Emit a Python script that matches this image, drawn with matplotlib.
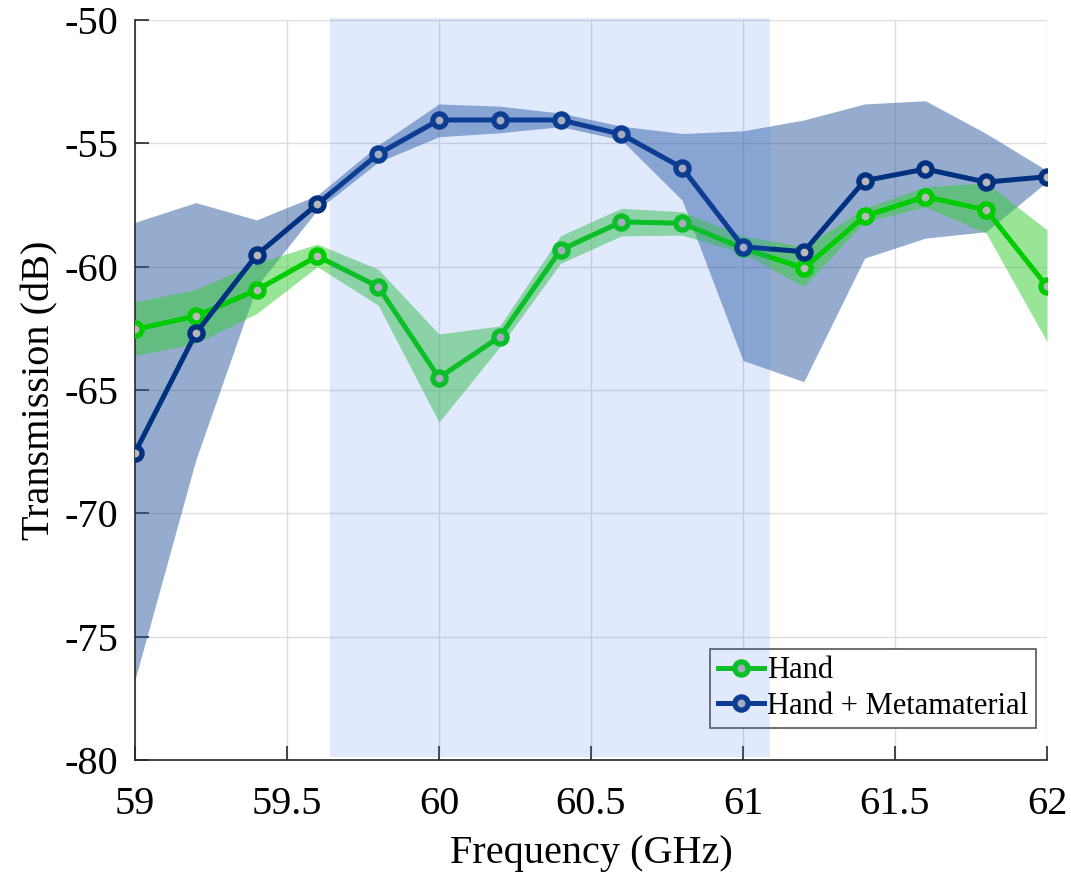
import numpy as np
import matplotlib
matplotlib.use("Agg")
import matplotlib.pyplot as plt

plt.rcParams['font.family'] = ['Liberation Serif', 'DejaVu Serif']
plt.rcParams['axes.unicode_minus'] = False

# frequency points (GHz)
freq = [59.0, 59.2, 59.4, 59.6, 59.8, 60.0, 60.2, 60.4, 60.6, 60.8,
        61.0, 61.2, 61.4, 61.6, 61.8, 62.0]

# Hand
hand = [-62.54, -62.0, -60.95, -59.57, -60.81, -64.5, -62.84, -59.32,
        -58.18, -58.24, -59.25, -60.06, -57.95, -57.16, -57.7, -60.8]
hand_hi = [-61.42, -60.92, -59.86, -59.08, -60.1, -62.73, -62.4, -58.74,
           -57.63, -57.77, -58.75, -59.19, -57.63, -56.76, -56.6, -58.5]
hand_lo = [-63.6, -63.1, -61.9, -60.0, -61.56, -66.3, -63.25, -59.86,
           -58.75, -58.72, -59.45, -60.8, -58.18, -57.57, -58.64, -63.04]

# Hand + Metamaterial
meta = [-67.54, -62.7, -59.53, -57.46, -55.43, -54.05, -54.05, -54.05,
        -54.63, -55.99, -59.19, -59.39, -56.51, -56.04, -56.57, -56.35]
meta_hi = [-58.2, -57.4, -58.1, -57.1, -55.07, -53.4, -53.49, -53.77,
           -54.3, -54.6, -54.49, -54.05, -53.4, -53.27, -54.6, -56.1]
meta_lo = [-76.75, -67.84, -60.8, -57.7, -55.76, -54.73, -54.57, -54.32,
           -54.86, -57.3, -63.8, -64.66, -59.65, -58.84, -58.58, -56.55]

band_start, band_end = 59.64, 61.09

fig = plt.figure(figsize=(10.71, 8.73), dpi=100)
ax = fig.add_axes([0.126, 0.1294, 0.8516, 0.8476])

ax.fill_between(freq, meta_lo, meta_hi, color='#2d5a9e', alpha=0.5, lw=0, zorder=2)
ax.fill_between(freq, hand_lo, hand_hi, color='#33cc33', alpha=0.5, lw=0, zorder=2)

ax.plot(freq, hand, color='#00cc00', lw=3.6, marker='o', ms=9.5, mew=3.8,
        mfc='#b8b8b8', mec='#00cc00', label='Hand', zorder=3)
ax.plot(freq, meta, color='#003080', lw=3.6, marker='o', ms=9.5, mew=3.8,
        mfc='#b8b8b8', mec='#003080', label='Hand + Metamaterial', zorder=4)

ax.set_xlim(59, 62)
ax.set_ylim(-80, -50)
ax.set_xticks([59, 59.5, 60, 60.5, 61, 61.5, 62])
ax.set_xticklabels(['59', '59.5', '60', '60.5', '61', '61.5', '62'])
ax.set_yticks([-80, -75, -70, -65, -60, -55, -50])
ax.grid(True, color='#dcdcdc', lw=1)
ax.set_axisbelow(True)
for s in ['top', 'right']:
    ax.spines[s].set_visible(False)
for s in ['left', 'bottom']:
    ax.spines[s].set_color('#262626')
    ax.spines[s].set_linewidth(1.2)
ax.tick_params(direction='in', length=10, width=1.2, colors='#262626',
               labelsize=29, labelcolor='black')
ax.tick_params(axis='x', pad=18.5)
ax.tick_params(axis='y', pad=12)
ax.set_xlabel('Frequency (GHz)', fontsize=29, labelpad=9)
ax.set_ylabel('Transmission (dB)', fontsize=29, labelpad=4)

leg = ax.legend(loc='lower right', fontsize=22, frameon=True, fancybox=False,
                edgecolor='#555555', framealpha=1, handlelength=1.5,
                handletextpad=0.12, borderpad=0.25, labelspacing=0.2,
                borderaxespad=0, bbox_to_anchor=(0.988, 0.043))
leg.get_frame().set_linewidth(1.2)

# highlighted band drawn over everything
ax.fill_between([band_start, band_end], -79.88, -49.92, color='#4d7ff0',
                alpha=0.17, lw=0, zorder=6, clip_on=False)

fig.savefig('out.png', dpi=100)
